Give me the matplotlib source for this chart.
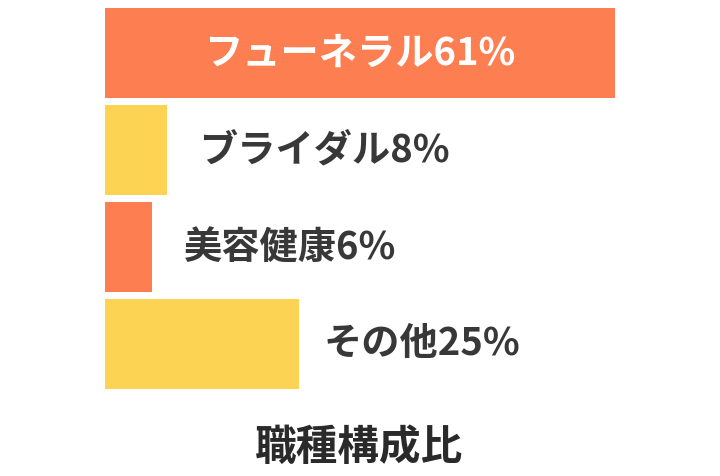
import matplotlib
matplotlib.use("Agg")
import matplotlib.pyplot as plt

plt.rcParams['font.family'] = ['Noto Sans CJK JP', 'DejaVu Sans']

categories = ["フューネラル", "ブライダル", "美容健康", "その他"]
shares = [61, 8, 6, 25]          # percentages shown in labels
bar_lengths = [65.8, 8, 6, 25]   # bar lengths as drawn in the picture
colors = ["#FD7F51", "#FDD353", "#FD7F51", "#FDD353"]
title = "職種構成比"

W, H = 720, 476
fig = plt.figure(figsize=(W / 100, H / 100), dpi=100)
px_per_unit = 7.75
left_px = 105
ax = fig.add_axes([left_px / W, 0, (W - left_px) / W, 1])
ax.set_xlim(0, (W - left_px) / px_per_unit)
# bar centers at pixel 53 + 97*i, bar height 90 px
ax.set_ylim((H - 53) / 97, (0 - 53) / 97)
ax.axis('off')

ypos = list(range(len(categories)))
ax.barh(ypos, bar_lengths, height=90 / 97, color=colors, left=0)

fs = 27.5
offsets = [0, 23, 23, 18]
for i, (cat, s, L) in enumerate(zip(categories, shares, bar_lengths)):
    txt = f"{cat}{s}%"
    if i == 0:
        ax.text(L / 2, i, txt, ha='center', va='center', color='white',
                fontsize=fs, fontweight='bold')
    else:
        ax.annotate(txt, (L, i), xytext=(offsets[i], 0), textcoords='offset points',
                    ha='left', va='center', color='#383838',
                    fontsize=fs, fontweight='bold')

fig.text(359 / W, 1 - 448 / H, title, ha='center', va='center',
         color='#2a2a2a', fontsize=30, fontweight='bold')

fig.savefig("out.png", dpi=100)
